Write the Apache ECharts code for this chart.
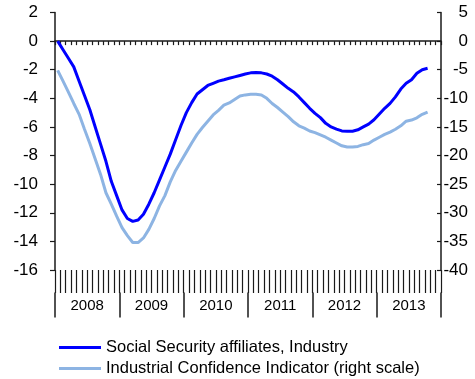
<!DOCTYPE html>
<html>
<head>
<meta charset="utf-8">
<script src="https://cdn.jsdelivr.net/npm/echarts@6/dist/echarts.min.js"></script>
<style>
  html, body { margin: 0; padding: 0; background: #fff; }
  #chart { width: 475px; height: 379px; }
</style>
</head>
<body>
<div id="chart"></div>
<script>
// Year bands along the bottom
const years = ['2008', '2009', '2010', '2011', '2012', '2013'];

// Monthly categories, Jan 2008 .. Dec 2013
const months = [];
years.forEach(y => {
  for (let m = 1; m <= 12; m++) months.push(y + '-' + String(m).padStart(2, '0'));
});

// Social Security affiliates, Industry (% y/y, left scale), Jan 2008 .. Oct 2013
const affiliates = [
  0, -0.6, -1.2, -1.8, -2.8, -3.8, -4.8, -6.0, -7.2, -8.4, -9.8, -10.8,
  -11.8, -12.4, -12.6, -12.5, -12.1, -11.4, -10.6, -9.7, -8.8, -7.9, -6.9, -5.9,
  -5.0, -4.3, -3.7, -3.4, -3.1, -2.95, -2.8, -2.7, -2.6, -2.5, -2.4, -2.3,
  -2.22, -2.2, -2.22, -2.3, -2.45, -2.7, -3.0, -3.3, -3.55, -3.9, -4.3, -4.7,
  -5.05, -5.35, -5.75, -6.0, -6.15, -6.28, -6.3, -6.3, -6.2, -6.0, -5.8, -5.5,
  -5.1, -4.7, -4.35, -3.9, -3.35, -2.95, -2.7, -2.25, -2.0, -1.9
];

// Industrial Confidence Indicator (right scale), Jan 2008 .. Oct 2013
const confidence = [
  -5.1, -7.0, -8.9, -10.9, -12.8, -15.4, -17.9, -20.6, -23.3, -26.5, -28.5, -30.6,
  -32.6, -34.0, -35.2, -35.2, -34.4, -32.9, -31.0, -28.8, -27.0, -24.6, -22.6, -21.0,
  -19.4, -17.8, -16.3, -15.1, -14.0, -12.9, -12.1, -11.2, -10.8, -10.2, -9.6, -9.4,
  -9.3, -9.3, -9.4, -10.0, -10.9, -11.6, -12.4, -13.2, -14.1, -14.8, -15.2, -15.7,
  -16.0, -16.4, -16.8, -17.3, -17.8, -18.3, -18.5, -18.5, -18.4, -18.1, -17.9, -17.3,
  -16.8, -16.3, -15.9, -15.4, -14.8, -14.0, -13.8, -13.4, -12.8, -12.4
];

// Axis ticks
const leftTicks = { min: -16, max: 2, interval: 2 };
const rightTicks = { min: -40, max: 5, interval: 5 };

const FONT = '"Liberation Sans", Arial, sans-serif';
const AXIS = '#1a1a1a';

const chart = echarts.init(document.getElementById('chart'), null, { renderer: 'canvas' });

chart.setOption({
  animation: false,
  backgroundColor: '#fff',
  textStyle: { fontFamily: FONT, color: '#000' },
  grid: { left: 55, right: 34, top: 12.5, bottom: 109, containLabel: false },
  legend: {
    orient: 'vertical',
    left: 59,
    top: 339,
    padding: 0,
    icon: 'rect',
    itemWidth: 42,
    itemHeight: 3,
    itemGap: 4,
    textStyle: { fontFamily: FONT, fontSize: 16.5, lineHeight: 16, color: '#000' },
    data: ['Social Security affiliates, Industry', 'Industrial Confidence Indicator (right scale)']
  },
  xAxis: [
    {
      // Zero line with short monthly ticks
      type: 'category',
      data: months,
      position: 'bottom',
      boundaryGap: true,
      axisLine: { show: true, onZero: true, lineStyle: { color: AXIS, width: 1.5 } },
      axisTick: { show: true, interval: 0, length: 4, inside: false, lineStyle: { color: AXIS, width: 1.2 } },
      axisLabel: { show: false },
      splitLine: { show: false }
    },
    {
      // Monthly tick band under the plot
      type: 'category',
      data: months,
      position: 'bottom',
      boundaryGap: true,
      axisLine: { show: false, onZero: false },
      axisTick: { show: true, interval: 0, length: 23, lineStyle: { color: AXIS, width: 1.2 } },
      axisLabel: { show: false },
      splitLine: { show: false }
    },
    {
      // Year labels with separators
      type: 'category',
      data: years,
      position: 'bottom',
      offset: 22.5,
      boundaryGap: true,
      axisLine: { show: false, onZero: false },
      axisTick: { show: true, interval: 0, length: 25, lineStyle: { color: AXIS, width: 1.5 } },
      axisLabel: { show: true, interval: 0, margin: 6, fontSize: 15, fontFamily: FONT, color: '#000' },
      splitLine: { show: false }
    }
  ],
  yAxis: [
    {
      type: 'value',
      position: 'left',
      min: leftTicks.min,
      max: leftTicks.max,
      interval: leftTicks.interval,
      axisLine: { show: true, onZero: false, lineStyle: { color: AXIS, width: 1.5 } },
      axisTick: { show: true, length: 5, inside: false, lineStyle: { color: AXIS, width: 1.2 } },
      axisLabel: { margin: 17, fontSize: 17, fontFamily: FONT, color: '#000' },
      splitLine: { show: false }
    },
    {
      type: 'value',
      position: 'right',
      min: rightTicks.min,
      max: rightTicks.max,
      interval: rightTicks.interval,
      axisLine: { show: true, onZero: false, lineStyle: { color: AXIS, width: 1.5 } },
      axisTick: { show: true, length: 4, inside: true, lineStyle: { color: AXIS, width: 1.2 } },
      axisLabel: { margin: 27, align: 'right', fontSize: 17, fontFamily: FONT, color: '#000' },
      splitLine: { show: false }
    }
  ],
  series: [
    {
      name: 'Social Security affiliates, Industry',
      type: 'line',
      xAxisIndex: 0,
      yAxisIndex: 0,
      data: affiliates,
      symbol: 'none',
      smooth: false,
      color: '#0000ff',
      lineStyle: { color: '#0000ff', width: 3 },
      z: 3
    },
    {
      name: 'Industrial Confidence Indicator (right scale)',
      type: 'line',
      xAxisIndex: 0,
      yAxisIndex: 1,
      data: confidence,
      symbol: 'none',
      smooth: false,
      color: '#8db4e3',
      lineStyle: { color: '#8db4e3', width: 3 },
      z: 2
    }
  ]
});
</script>
</body>
</html>
